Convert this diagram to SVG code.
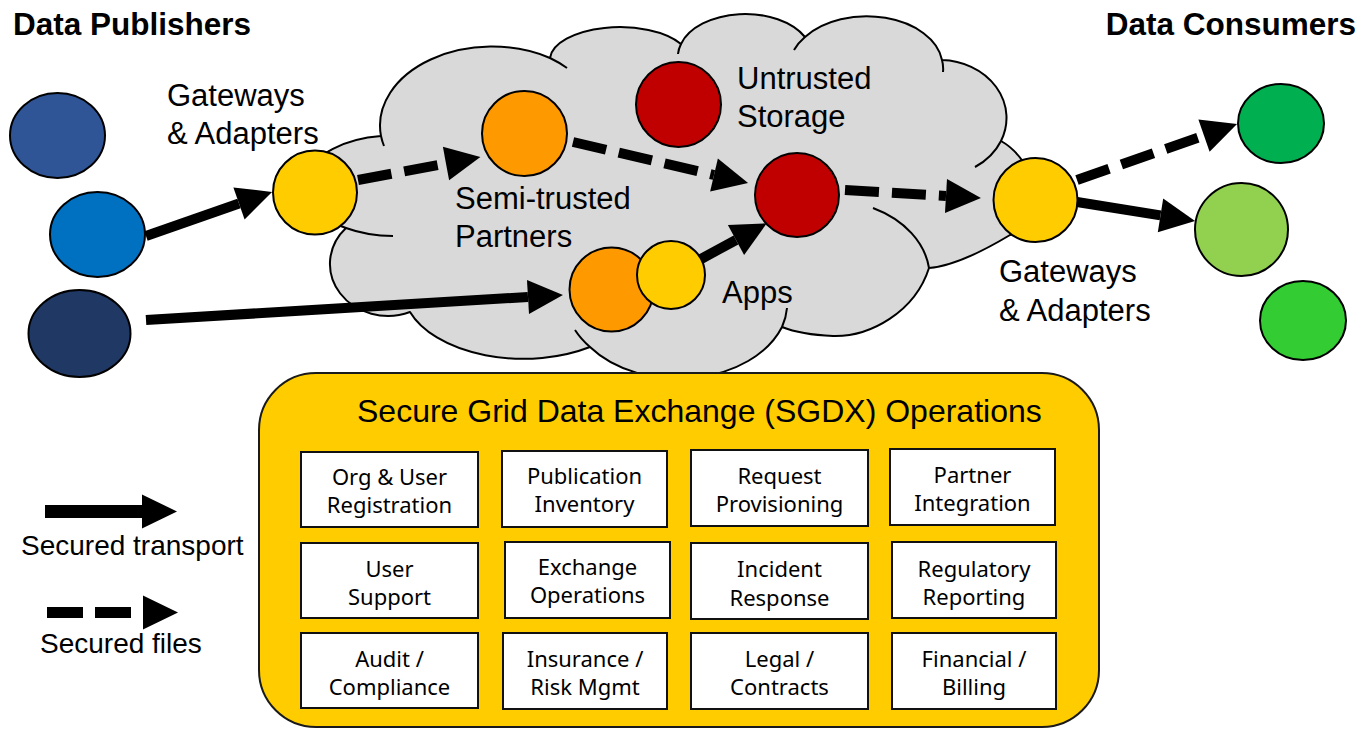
<svg xmlns="http://www.w3.org/2000/svg" width="1362" height="729" viewBox="0 0 1362 729">
  <style>
    .lbl { font-family: "Liberation Sans", Arial, sans-serif; font-size: 31px; fill: #000; }
    .hdr { font-family: "Liberation Sans", Arial, sans-serif; font-size: 31.5px; font-weight: bold; fill: #000; }
    .leg { font-family: "Liberation Sans", Arial, sans-serif; font-size: 28px; fill: #000; }
    .ttl { font-family: "Liberation Sans", Arial, sans-serif; font-size: 32px; fill: #000; }
    .op rect { fill: #fff; stroke: #111; stroke-width: 2; }
    .op text { font-family: "Noto Sans", "Open Sans", sans-serif; font-size: 22px; fill: #000; text-anchor: middle; }
    .node { stroke: #000; stroke-width: 2; }
    .cloud { fill: #d9d9d9; stroke: #000; stroke-width: 2; stroke-linejoin: round; }
    .cloud-in { fill: none; stroke: #000; stroke-width: 2; }
    .solid { stroke: #000; stroke-width: 10; fill: none; marker-end: url(#head); }
    .dash { stroke: #000; stroke-width: 10; fill: none; stroke-dasharray: 34 13; marker-end: url(#head); }
  </style>
  <defs>
    <marker id="head" markerUnits="userSpaceOnUse" markerWidth="40" markerHeight="40" refX="0" refY="17" orient="auto" overflow="visible">
      <path d="M0,0 L35,17 L0,34 Z" fill="#000"/>
    </marker>
  </defs>

  <rect width="1362" height="729" fill="#fff"/>

  <!-- exchange cloud -->
  <g id="cloud">
    <path class="cloud" d="M346,228 A88,50 0 0 1 381,136 A112,79 0 0 1 550,58 A70,33 0 0 1 681,44 A67,42 0 0 1 805,37 A76,50 0 0 1 942,60 A67,58 0 0 1 1001,141 C1035,160 1050,215 1010,235 C985,250 955,266 929,268 C915,312 870,337 833,336 C810,335 792,331 782,327 A110,78 0 0 1 590,347 A120,70 0 0 1 410,312 A58,52 0 0 1 346,228 Z"/>
    <path class="cloud-in" d="M346,228 A88,50 0 0 0 393,236 M381,136 A112,79 0 0 0 384,146 M550,58 A112,79 0 0 1 567,68 M681,44 A67,42 0 0 0 678,54 M805,37 A76,50 0 0 0 794,50 M942,60 A76,50 0 0 1 943,72 M1001,141 A67,58 0 0 1 975,167 M873,208 C905,220 925,243 929,268 M782,327 A110,78 0 0 0 787,308 M590,347 A110,78 0 0 1 575,330"/>
  </g>

  <!-- SGDX operations panel -->
  <g id="sgdx-operations">
    <rect x="259" y="373" width="840" height="354" rx="57" ry="57" fill="#ffcc00" stroke="#1a1a1a" stroke-width="2"/>
    <text class="ttl" x="357" y="422">Secure Grid Data Exchange (SGDX) Operations</text>

    <g id="op-registration" class="op"><rect x="301" y="452" width="177" height="75"/><text x="389.5" y="485">Org &amp; User</text><text x="389.5" y="513">Registration</text></g>
    <g id="op-publication" class="op"><rect x="502" y="451" width="165" height="76"/><text x="584.5" y="484">Publication</text><text x="584.5" y="512">Inventory</text></g>
    <g id="op-request" class="op"><rect x="691" y="450" width="177" height="76"/><text x="779.5" y="484">Request</text><text x="779.5" y="512">Provisioning</text></g>
    <g id="op-partner" class="op"><rect x="890" y="449" width="165" height="76"/><text x="972.5" y="483">Partner</text><text x="972.5" y="511">Integration</text></g>

    <g id="op-support" class="op"><rect x="301" y="543" width="177" height="75"/><text x="389.5" y="577">User</text><text x="389.5" y="605">Support</text></g>
    <g id="op-exchange" class="op"><rect x="505" y="542" width="165" height="76"/><text x="587.5" y="575">Exchange</text><text x="587.5" y="603">Operations</text></g>
    <g id="op-incident" class="op"><rect x="691" y="543" width="177" height="76"/><text x="779.5" y="577">Incident</text><text x="779.5" y="606">Response</text></g>
    <g id="op-regulatory" class="op"><rect x="892" y="542" width="164" height="76"/><text x="974" y="577">Regulatory</text><text x="974" y="605">Reporting</text></g>

    <g id="op-audit" class="op"><rect x="301" y="633" width="177" height="75"/><text x="389.5" y="667">Audit /</text><text x="389.5" y="695">Compliance</text></g>
    <g id="op-insurance" class="op"><rect x="503" y="633" width="164" height="76"/><text x="585" y="667">Insurance /</text><text x="585" y="695">Risk Mgmt</text></g>
    <g id="op-legal" class="op"><rect x="691" y="633" width="177" height="76"/><text x="779.5" y="667">Legal /</text><text x="779.5" y="695">Contracts</text></g>
    <g id="op-financial" class="op"><rect x="892" y="633" width="164" height="76"/><text x="974" y="667">Financial /</text><text x="974" y="695">Billing</text></g>
  </g>

  <!-- connectors -->
  <g id="connectors">
    <path class="solid" d="M146,236 L239,203.5"/>
    <path class="solid" d="M146,320 L528,297"/>
    <path class="dash" d="M358,180 L446,163.5"/>
    <path class="dash" d="M573,142 L714,175"/>
    <path class="dash" d="M845,190 L946,196"/>
    <path class="solid" d="M701,259 L736,240"/>
    <path class="dash" d="M1077,180 L1204,135.6"/>
    <path class="solid" d="M1077,202 L1160.5,215.4"/>
  </g>

  <!-- publishers -->
  <g id="pub-1"><ellipse class="node" cx="57.5" cy="135.5" rx="47.5" ry="42.5" fill="#2f5597"/></g>
  <g id="pub-2"><ellipse class="node" cx="97.5" cy="234.5" rx="47.5" ry="42.5" fill="#0070c0"/></g>
  <g id="pub-3"><ellipse class="node" cx="79.5" cy="333.5" rx="51" ry="43.5" fill="#203864"/></g>

  <!-- inbound gateway -->
  <g id="gateway-in">
    <circle class="node" cx="315" cy="192.5" r="42" fill="#ffcc00"/>
    <text class="lbl" x="167" y="106">Gateways</text>
    <text class="lbl" x="167" y="144">&amp; Adapters</text>
  </g>

  <!-- cloud members -->
  <g id="semi-trusted">
    <circle class="node" cx="524.5" cy="133.5" r="42.5" fill="#ff9900"/>
    <text class="lbl" x="455" y="209">Semi-trusted</text>
    <text class="lbl" x="455" y="247">Partners</text>
  </g>
  <g id="untrusted-storage">
    <circle class="node" cx="678.5" cy="104.5" r="42.5" fill="#c00000"/>
    <text class="lbl" x="737" y="89">Untrusted</text>
    <text class="lbl" x="737" y="127">Storage</text>
  </g>
  <g id="storage"><circle class="node" cx="797" cy="195" r="42" fill="#c00000"/></g>
  <g id="apps">
    <circle class="node" cx="611.5" cy="289.5" r="42" fill="#ff9900"/>
    <circle class="node" cx="671" cy="275" r="34" fill="#ffcc00"/>
    <text class="lbl" x="722" y="303">Apps</text>
  </g>

  <!-- outbound gateway -->
  <g id="gateway-out">
    <circle class="node" cx="1035.5" cy="200" r="42" fill="#ffcc00"/>
    <text class="lbl" x="999" y="282">Gateways</text>
    <text class="lbl" x="999" y="321">&amp; Adapters</text>
  </g>

  <!-- consumers -->
  <g id="consumer-1"><ellipse class="node" cx="1281" cy="123.5" rx="43" ry="39.5" fill="#00b050"/></g>
  <g id="consumer-2"><ellipse class="node" cx="1241.5" cy="229.5" rx="46.5" ry="46.5" fill="#92d050"/></g>
  <g id="consumer-3"><ellipse class="node" cx="1303" cy="320.5" rx="43" ry="39.5" fill="#33cc33"/></g>

  <!-- headings -->
  <text class="hdr" x="13" y="35">Data Publishers</text>
  <text class="hdr" x="1356" y="35" text-anchor="end">Data Consumers</text>

  <!-- legend -->
  <g id="legend">
    <path d="M45,511.5 L142,511.5" stroke="#000" stroke-width="13" fill="none" marker-end="url(#head)"/>
    <text class="leg" x="21" y="555">Secured transport</text>
    <path d="M47,612.5 L143,612.5" stroke="#000" stroke-width="11" fill="none" stroke-dasharray="36 12" marker-end="url(#head)"/>
    <text class="leg" x="40" y="653">Secured files</text>
  </g>
</svg>
